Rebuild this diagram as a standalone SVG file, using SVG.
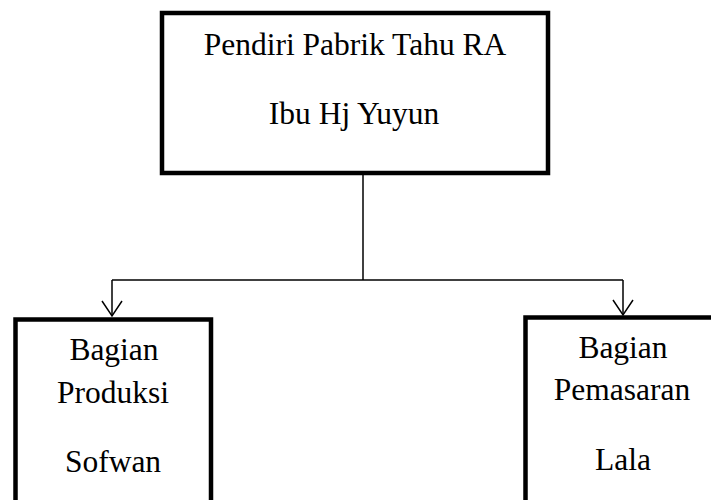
<svg xmlns="http://www.w3.org/2000/svg" width="711" height="500" viewBox="0 0 711 500">
<style>
.box{fill:#fff;stroke:#000;stroke-width:4.5}
.t{font-family:"Liberation Serif","Times New Roman",serif;font-size:31.5px;fill:#000;text-anchor:middle}
.c{fill:none;stroke:#000;stroke-width:1.5}
</style>
<defs>
<marker id="arr" markerWidth="20" markerHeight="24" refX="16" refY="12" markerUnits="userSpaceOnUse" orient="auto" viewBox="0 0 20 24">
<path d="M1,2 L16,12 L1,22" fill="none" stroke="#000" stroke-width="1.5"/>
</marker>
</defs>
<rect width="711" height="500" fill="#fff"/>
<g id="connectors">
<line class="c" x1="363" y1="175" x2="363" y2="280"/>
<line class="c" x1="112" y1="280" x2="623" y2="280"/>
<path class="c" d="M112,280 L112,316" marker-end="url(#arr)"/>
<path class="c" d="M623,280 L623,315" marker-end="url(#arr)"/>
</g>
<g id="node-pendiri">
<rect class="box" x="162" y="13" width="386" height="160"/>
<text class="t" x="355" y="55">Pendiri Pabrik Tahu RA</text>
<text class="t" x="354" y="124">Ibu Hj Yuyun</text>
</g>
<g id="node-produksi">
<rect class="box" x="15.5" y="319.5" width="195.5" height="200"/>
<text class="t" x="114" y="360">Bagian</text>
<text class="t" x="113" y="403">Produksi</text>
<text class="t" x="113" y="472">Sofwan</text>
</g>
<g id="node-pemasaran">
<rect class="box" x="525.5" y="317.5" width="200" height="200"/>
<text class="t" x="623" y="358">Bagian</text>
<text class="t" x="622" y="400">Pemasaran</text>
<text class="t" x="623" y="470">Lala</text>
</g>
</svg>
